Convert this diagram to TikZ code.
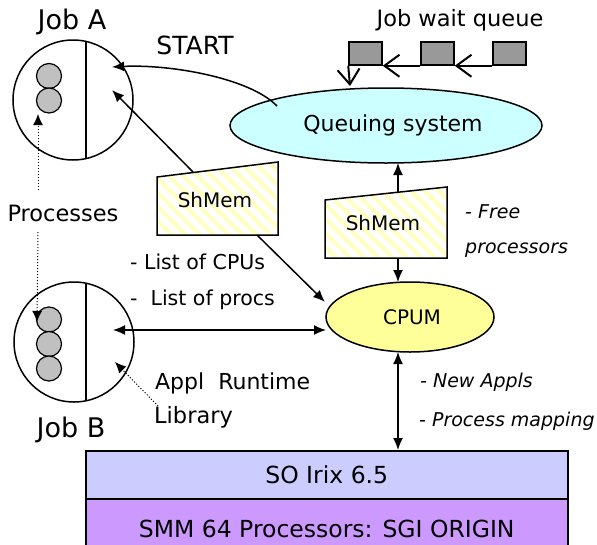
\documentclass[tikz,border=0pt]{standalone}
\usepackage{fontspec}
\setmainfont{DejaVu Sans}
\usetikzlibrary{arrows.meta,patterns.meta,shapes.geometric}
\definecolor{qscol}{HTML}{CCFFFF}
\definecolor{cpumcol}{HTML}{FFFF99}
\definecolor{irixcol}{HTML}{CCCCFF}
\definecolor{smmcol}{HTML}{CC99FF}
\definecolor{sqcol}{HTML}{999999}
\definecolor{proccol}{HTML}{C0C0C0}
\definecolor{stripecol}{HTML}{FFFFC0}
\newcommand{\fsz}[1]{\fontsize{#1}{#1}\selectfont}
\tikzset{
  txt/.style={font=\fsz{22.5}, inner sep=0pt},
  smalltxt/.style={font=\fsz{20}, inner sep=0pt},
  lbl/.style={txt, anchor=west},
  ilbl/.style={font=\fsz{19}\itshape, inner sep=0pt, anchor=west},
  jobcircle/.style={circle, draw, line width=1.5pt, minimum size=120pt, inner sep=0pt},
  proc/.style={circle, draw, line width=1.2pt, fill=proccol, minimum size=25pt, inner sep=0pt},
  sq/.style={rectangle, draw, line width=1.5pt, fill=sqcol, minimum width=33pt, minimum height=23pt, inner sep=0pt},
  arr/.style={line width=1.5pt, -{Latex[length=12pt,width=10pt]}},
  darr/.style={line width=1.5pt, {Latex[length=12pt,width=10pt]}-{Latex[length=12pt,width=10pt]}},
  dotarr/.style={line width=1pt, dotted, -{Latex[length=11pt,width=10pt]}},
  barb/.style={line width=2pt, -{Straight Barb[length=15pt,width=22pt,line width=2pt]}},
  shmem/.style={line width=1.5pt, draw, preaction={fill=white}, pattern={Lines[angle=-45,distance=10pt,line width=4pt]}, pattern color=stripecol},
}
\begin{document}
\begin{tikzpicture}[x=1pt,y=-1pt]
\useasboundingbox (0,0) rectangle (597,544);
\clip (0,0) rectangle (597,544);
\fill[white] (0,0) rectangle (597,544);

% bottom layers
\node[txt, font=\fsz{23.5}, rectangle, draw, line width=1.5pt, fill=irixcol, minimum width=482pt, minimum height=48pt, anchor=north west] (irix) at (85,450) {SO Irix 6.5};
\node[txt, font=\fsz{23.5}, rectangle, draw, line width=1.5pt, fill=smmcol, minimum width=482pt, minimum height=60pt, anchor=north west] (smm) at (85,498) {SMM 64 Processors: SGI ORIGIN};

% Job A
\node[jobcircle] (jobA) at (73,100) {};
\draw[line width=1.5pt] (86,41.4) -- (86,158.6);
\node[proc] (pa1) at (49,76) {};
\node[proc] (pa2) at (49,100.5) {};
\node[txt, font=\fsz{27}] (jobAlbl) at (72,22) {Job A};

% Job B
\node[jobcircle] (jobB) at (74,342) {};
\draw[line width=1.5pt] (86,282.6) -- (86,401.4);
\node[proc] (pb1) at (49,319.5) {};
\node[proc] (pb2) at (49,344) {};
\node[proc] (pb3) at (49,368.5) {};
\node[txt, font=\fsz{27}] (jobBlbl) at (71,430) {Job B};

\node[txt] (procs) at (63,213) {Processes};

% queuing system
\node[txt, ellipse, draw, line width=1.5pt, fill=qscol, minimum width=312pt, minimum height=75pt] (qs) at (386,125.5) {};
\node[txt, font=\fsz{22}] (qstxt) at (393,125) {Queuing system};

% CPUM
\node[smalltxt, ellipse, draw, line width=1.5pt, fill=cpumcol, minimum width=168pt, minimum height=70pt] (cpum) at (410,317) {};
\node[smalltxt] (cpumtxt) at (412,317) {CPUM};

% job wait queue
\node[txt] (jwq) at (460,20) {Job wait queue};
\node[sq] (q1) at (365.5,53.5) {};
\node[sq] (q2) at (437.5,53.5) {};
\node[sq] (q3) at (509.5,53.5) {};
\coordinate (qin) at (350,86);
\draw[barb] (q3.south west) -- (q2.south east);
\draw[barb] (q2.south west) -- (q1.south east);
\draw[barb] (q1.south west) -- (qin);

% ShMem boxes
\path[shmem] (157,177) -- (278,162) -- (278,235) -- (157,235) -- cycle;
\node[smalltxt] (shA) at (215,200) {ShMem};
\path[shmem] (325,200) -- (447,187) -- (447,258) -- (325,258) -- cycle;
\node[smalltxt] (shB) at (383,223) {ShMem};

% labels
\node[txt, font=\fsz{25}] (start) at (195,45) {START};
\node[lbl, font=\fsz{20.5}] (lcpus) at (130,262) {- List of CPUs};
\node[lbl, font=\fsz{20.5}] (lprocs) at (130,300) {-\ \ List of procs};
\node[lbl, font=\fsz{22}] (appl) at (155,383) {Appl\ \ Runtime};
\node[lbl, font=\fsz{22.5}] (lib) at (154,417) {Library};
\node[ilbl] (free) at (465,212) {- Free};
\node[ilbl] (freep) at (465,250) {processors};
\node[ilbl] (newa) at (420,382) {- New Appls};
\node[ilbl] (pmap) at (419,421) {- Process mapping};

% connector end points
\coordinate (qsStart) at (277,106);
\coordinate (jobAStartTip) at (112,67);
\coordinate (shAtop) at (193,172);
\coordinate (jobAShTip) at (112,90);
\coordinate (shAbot) at (257,235);
\coordinate (cpumShTip) at (325,302);
\coordinate (jobBtip) at (113,330);
\coordinate (cpumW) at (326,330);
\coordinate (shBtop) at (398,193);
\coordinate (qsBot) at (398,163);
\coordinate (shBbot) at (398,258);
\coordinate (cpumTop) at (398,282);
\coordinate (cpumBot) at (398,352);
\coordinate (irixTop) at (398,450);
\coordinate (procUp0) at (38,190);
\coordinate (procUp1) at (38,114);
\coordinate (procDn0) at (38,232);
\coordinate (procDn1) at (37,322);
\coordinate (lib0) at (158,406);
\coordinate (lib1) at (115,362);

% connectors
\draw[arr] (qsStart) .. controls (250,78) and (170,64) .. (jobAStartTip);
\draw[arr] (shAtop) -- (jobAShTip);
\draw[arr] (shAbot) -- (cpumShTip);
\draw[darr] (jobBtip) -- (cpumW);
\draw[arr] (shBtop) -- (qsBot);
\draw[arr] (shBbot) -- (cpumTop);
\draw[darr] (cpumBot) -- (irixTop);
\draw[dotarr] (procUp0) -- (procUp1);
\draw[dotarr] (procDn0) -- (procDn1);
\draw[dotarr] (lib0) -- (lib1);
\end{tikzpicture}
\end{document}
